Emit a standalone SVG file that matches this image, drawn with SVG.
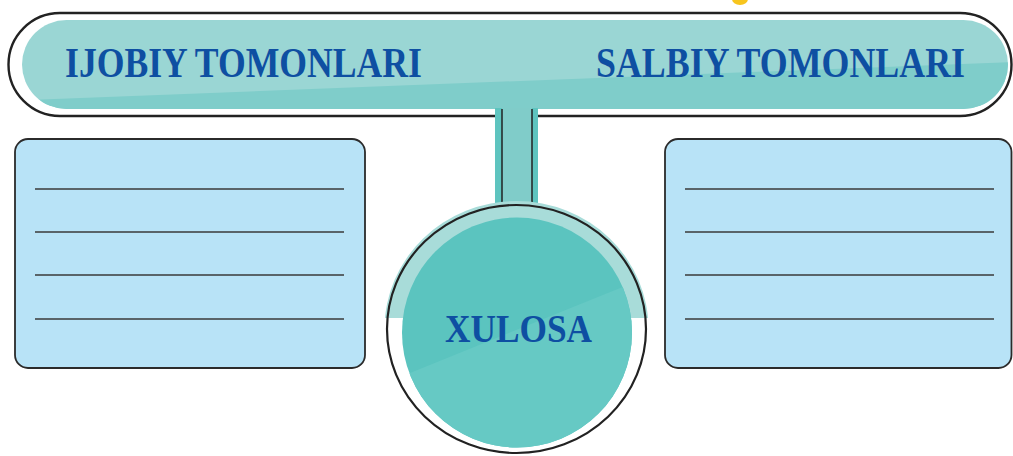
<svg xmlns="http://www.w3.org/2000/svg" width="1013" height="456" viewBox="0 0 1013 456">
<style>
.title{font-family:"Liberation Serif","Times New Roman",serif;font-weight:bold;fill:#0e4fa2;}
.box{fill:#b8e3f7;stroke:#2b2b2b;stroke-width:1.8;}
.rule{stroke:#3a3a3a;stroke-width:1.6;}
.outline{fill:none;stroke:#222;stroke-width:2.2;}
</style>
<defs>
<clipPath id="barClip"><rect x="22" y="20" width="986" height="89" rx="44.5" ry="44.5"/></clipPath>
<clipPath id="topHalf"><rect x="370" y="180" width="300" height="138"/></clipPath>
<clipPath id="innerClip"><circle cx="517" cy="332.5" r="115"/></clipPath>
</defs>
<rect x="0" y="0" width="1013" height="456" fill="#ffffff"/>
<ellipse cx="740" cy="-1" rx="8" ry="6" fill="#f7c51e"/>

<g id="header">
<rect x="8.5" y="13" width="1003" height="103" rx="51.5" ry="51.5" fill="#ffffff" stroke="#222" stroke-width="2.4"/>
<g clip-path="url(#barClip)">
<rect x="22" y="20" width="986" height="89" fill="#9ad6d4"/>
<polygon points="0,101 1013,62 1013,120 0,120" fill="#7fcdca"/>
</g>
<text class="title" x="65" y="77" font-size="42" textLength="357" lengthAdjust="spacingAndGlyphs">IJOBIY TOMONLARI</text>
<text class="title" x="596" y="77" font-size="42" textLength="369" lengthAdjust="spacingAndGlyphs">SALBIY TOMONLARI</text>
</g>

<g id="connectors">
<rect x="495" y="108" width="43" height="96" fill="#5ec4bf"/>
<rect x="502" y="108" width="30" height="96" fill="#80ccc9"/>
<line x1="502" y1="109" x2="502" y2="202" stroke="#222" stroke-width="1.5"/>
<line x1="532" y1="109" x2="532" y2="202" stroke="#222" stroke-width="1.5"/>
</g>

<g id="left-box">
<rect class="box" x="15" y="139" width="350" height="229" rx="13" ry="13"/>
<line class="rule" x1="35" y1="189" x2="344" y2="189"/>
<line class="rule" x1="35" y1="232" x2="344" y2="232"/>
<line class="rule" x1="35" y1="275" x2="344" y2="275"/>
<line class="rule" x1="35" y1="319" x2="344" y2="319"/>
</g>

<g id="right-box">
<rect class="box" x="665" y="139" width="346.5" height="229" rx="13" ry="13"/>
<line class="rule" x1="685" y1="189" x2="994" y2="189"/>
<line class="rule" x1="685" y1="232" x2="994" y2="232"/>
<line class="rule" x1="685" y1="275" x2="994" y2="275"/>
<line class="rule" x1="685" y1="319" x2="994" y2="319"/>
</g>

<g id="conclusion">
<ellipse cx="516.5" cy="329" rx="132" ry="128" fill="#a8dcd9" clip-path="url(#topHalf)"/>
<ellipse class="outline" cx="516.5" cy="329" rx="129.5" ry="124"/>
<g clip-path="url(#innerClip)">
<rect x="400" y="215" width="240" height="235" fill="#5bc4bf"/>
<polygon points="400,377 640,280 640,450 400,450" fill="#66c9c4"/>
</g>
<text class="title" x="445" y="342" font-size="41" textLength="147" lengthAdjust="spacingAndGlyphs">XULOSA</text>
</g>
</svg>
